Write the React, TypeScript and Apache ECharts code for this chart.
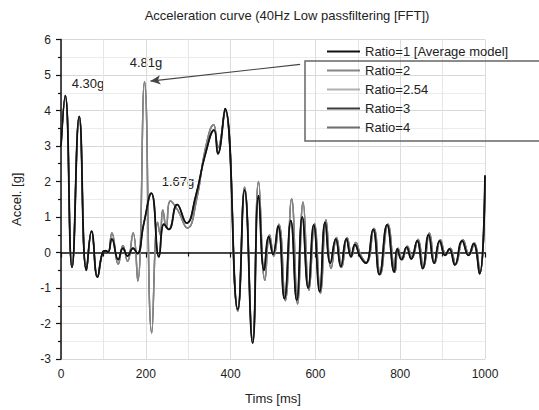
import React, { useEffect, useRef } from "react";
import * as echarts from "echarts";

// Ratio=1 [Average model] (black curve)
const ratio1Times = [0,10,26,43,60,72,86,98,106,111,120,135,146,157,170,180,195,213,231,243,254,274,296,318,340,361,370,387,417,433,452,466,479,490,500,512,527,542,556,569,583,596,610,623,635,648,660,673,684,693,706,719,736,751,769,786,793,803,815,826,840,853,867,880,893,906,916,929,946,961,973,987,1000];
const ratio1Values = [3.0,4.42,-0.42,3.83,-0.5,0.6,-0.69,0.0,0.05,0.0,0.38,-0.2,0.12,-0.1,0.12,-0.03,0.8,1.67,-0.12,0.8,0.65,1.35,0.83,1.6,2.75,3.45,2.78,4.05,-1.6,1.76,-2.55,1.6,-0.5,0.45,-0.05,0.75,-1.3,0.9,-1.35,1.0,-1.0,0.78,-1.1,0.85,-0.3,0.38,-0.4,0.38,-0.12,0.22,-0.12,-0.3,0.65,-0.62,0.78,-0.55,0.1,-0.2,0.15,-0.18,0.33,-0.45,0.5,-0.3,0.33,-0.08,0.1,-0.35,0.33,-0.08,0.25,-0.6,2.17];

// Ratio=2 (gray curve with the 4.81g spike)
const ratio2Times = [0,10,26,43,60,72,86,98,106,111,120,135,146,157,170,181,197,214,228,234,240,248,258,275,298,320,340,360,370,387,417,433,452,466,481,492,502,514,529,544,558,571,585,598,612,625,637,650,662,675,686,695,708,721,738,753,771,788,795,805,817,828,842,855,869,882,895,908,918,931,948,963,975,988,1000];
const ratio2Values = [3.0,4.42,-0.42,3.83,-0.5,0.6,-0.69,0.0,0.05,-0.02,0.55,-0.33,0.2,-0.25,0.55,-0.8,4.81,-2.27,0.85,0.5,1.2,0.7,1.45,1.2,0.69,1.5,2.9,3.6,2.95,4.0,-1.65,1.84,-2.45,2.0,-0.78,0.5,-0.1,0.8,-1.36,1.51,-1.45,1.42,-1.06,0.82,-1.15,0.92,-0.45,0.42,-0.42,0.42,-0.1,0.28,-0.1,-0.28,0.68,-0.62,0.8,-0.55,0.12,-0.2,0.18,-0.15,0.37,-0.43,0.55,-0.3,0.36,-0.06,0.12,-0.33,0.36,-0.06,0.27,-0.58,2.17];

// The remaining ratios overlap the two visible curves in the picture
const ratio254Times = ratio2Times;
const ratio254Values = ratio2Values;
const ratio3Times = ratio1Times;
const ratio3Values = ratio1Values;
const ratio4Times = ratio2Times;
const ratio4Values = ratio2Values;

const legendNames = ["Ratio=1 [Average model]", "Ratio=2", "Ratio=2.54", "Ratio=3", "Ratio=4"];
const xTickLabels = ["0", "200", "400", "600", "800", "1000"];

const FONT = "Liberation Sans, Arial, Helvetica, sans-serif";

const pairs = (t: number[], v: number[]) => t.map((x, i) => [x, v[i]]);

export default function App() {
  const ref = useRef<HTMLDivElement>(null);
  useEffect(() => {
    if (!ref.current) return;
    const chart = echarts.init(ref.current, null, { renderer: "svg" });
    const mkSeries = (name: string, t: number[], v: number[], color: string, width: number, extra: any = {}) => ({
      name,
      type: "line",
      data: pairs(t, v),
      smooth: 0.5,
      symbol: "none",
      lineStyle: { color, width },
      itemStyle: { color },
      ...extra,
    });
    chart.setOption({
      animation: false,
      grid: { left: 61, right: 54, top: 39.5, bottom: 48 },
      graphic: [
        {
          type: "text",
          x: 287,
          y: 15,
          style: { text: "Acceleration curve (40Hz Low passfiltering [FFT])", font: `13px ${FONT}`, fill: "#222", textAlign: "center", textVerticalAlign: "middle" },
        },
        { type: "text", x: 88, y: 83, style: { text: "4.30g", font: `13px ${FONT}`, fill: "#222", textAlign: "center", textVerticalAlign: "middle" } },
        { type: "text", x: 146, y: 62, style: { text: "4.81g", font: `13px ${FONT}`, fill: "#222", textAlign: "center", textVerticalAlign: "middle" } },
        { type: "text", x: 178, y: 181, style: { text: "1.67g", font: `13px ${FONT}`, fill: "#222", textAlign: "center", textVerticalAlign: "middle" } },
        {
          type: "rect",
          shape: { x: 305, y: 61, width: 260, height: 80 },
          style: { fill: "none", stroke: "#666", lineWidth: 1.5 },
          z: 10,
        },
      ],
      legend: {
        orient: "vertical",
        left: 322,
        top: 39,
        itemWidth: 33,
        itemHeight: 2,
        itemGap: 4,
        icon: "path://M0,0 L33,0 L33,2 L0,2 Z",
        data: legendNames,
        textStyle: { fontSize: 13, color: "#222", fontFamily: FONT, lineHeight: 15 },
      },
      xAxis: {
        type: "value",
        min: 0,
        max: 1000,
        interval: 200,
        name: "Tims [ms]",
        nameLocation: "middle",
        nameGap: 33,
        nameTextStyle: { fontSize: 13, color: "#222", fontFamily: FONT },
        axisLine: { show: true, lineStyle: { color: "#111", width: 1.5 } },
        axisTick: { show: true, length: 5, lineStyle: { color: "#111", width: 1.2 } },
        minorTick: { show: true, splitNumber: 2, length: 4, lineStyle: { color: "#111", width: 1.2 } },
        axisLabel: {
          fontSize: 12,
          color: "#222",
          fontFamily: FONT,
          margin: 9,
          formatter: (val: number) => xTickLabels[Math.round(val / 200)] ?? String(val),
        },
        splitLine: { show: true, lineStyle: { color: "#dcdcdc", width: 1 } },
        minorSplitLine: { show: true, lineStyle: { color: "#e6e6e6", width: 1 } },
      },
      yAxis: {
        type: "value",
        min: -3,
        max: 6,
        interval: 1,
        name: "Accel. [g]",
        nameLocation: "middle",
        nameGap: 38,
        nameTextStyle: { fontSize: 13, color: "#222", fontFamily: FONT },
        axisLine: { show: true, lineStyle: { color: "#111", width: 1.5 } },
        axisTick: { show: true, length: 5, lineStyle: { color: "#111", width: 1.2 } },
        minorTick: { show: true, splitNumber: 2, length: 3, lineStyle: { color: "#111", width: 1.2 } },
        axisLabel: { fontSize: 12, color: "#222", fontFamily: FONT, margin: 10 },
        splitLine: { show: true, lineStyle: { color: "#d8d8d8", width: 1.2 } },
        minorSplitLine: { show: true, lineStyle: { color: "#ececec", width: 1 } },
      },
      series: [
        mkSeries("Ratio=2.54", ratio254Times, ratio254Values, "#b0b0b0", 1.4),
        mkSeries("Ratio=4", ratio4Times, ratio4Values, "#6e6e6e", 1.4),
        mkSeries("Ratio=3", ratio3Times, ratio3Values, "#3c3c3c", 1.5),
        mkSeries("Ratio=2", ratio2Times, ratio2Values, "#858585", 1.5, {
          markLine: {
            silent: true,
            symbol: ["none", "arrow"],
            symbolSize: [7, 10],
            label: { show: false },
            lineStyle: { color: "#444", width: 1.2, type: "solid" },
            data: [[{ coord: [564, 5.3] }, { coord: [211, 4.83] }]],
          },
        }),
        mkSeries("Ratio=1 [Average model]", ratio1Times, ratio1Values, "#111", 1.8),
      ],
    });
    return () => chart.dispose();
  }, []);
  return <div ref={ref} style={{ position: "fixed", left: 0, top: 0, width: 539, height: 410, background: "#fff" }} />;
}
